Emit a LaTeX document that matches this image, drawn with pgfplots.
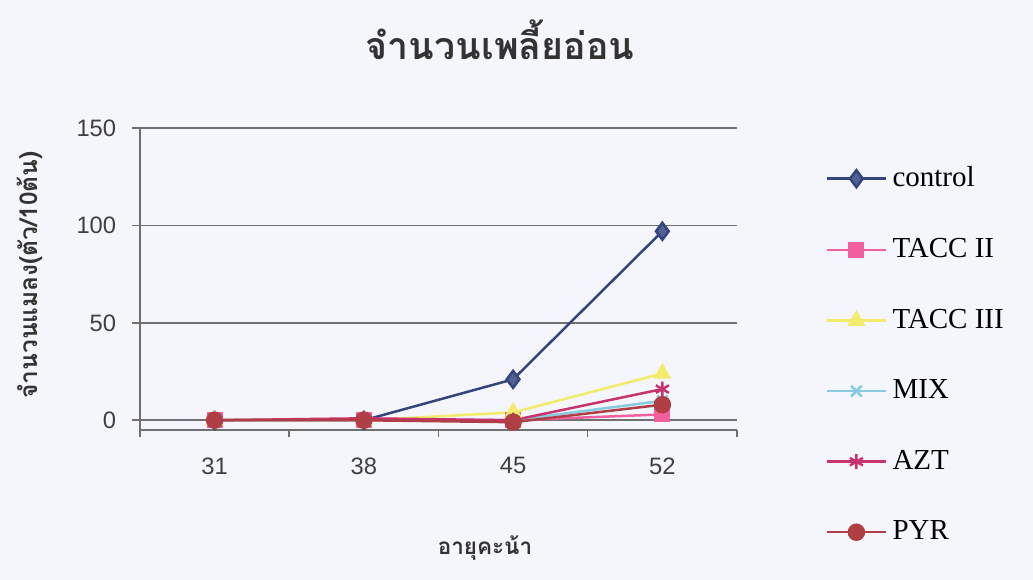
\documentclass[border=0pt]{standalone}
\usepackage{pgfplots}
\pgfplotsset{compat=1.18}
\usepackage{fontspec}
\setmainfont{Liberation Serif}
\newfontfamily\thaifont[Script=Thai]{Loma}
\newfontfamily\arialfont{Liberation Sans}
\definecolor{bg}{HTML}{F4F6FB}
\definecolor{cctrl}{HTML}{34457E}
\definecolor{ctacc2}{HTML}{F0609E}
\definecolor{ctacc3}{HTML}{F2EC6A}
\definecolor{cmix}{HTML}{86CBE0}
\definecolor{cazt}{HTML}{C8336E}
\definecolor{cpyr}{HTML}{B03F45}
\definecolor{gridc}{HTML}{707070}
\begin{document}
\begin{tikzpicture}
\fill[bg] (-56pt,-60pt) rectangle (357.2pt,172pt);
\begin{axis}[
  at={(0pt,0pt)}, anchor=south west,
  scale only axis, width=238.8pt, height=120.8pt,
  xmin=-0.5, xmax=3.5, ymin=-5, ymax=150,
  axis x line*=bottom, axis y line*=left,
  axis line style={gridc, line width=0.6pt},
  xtick={0,1,2,3}, xticklabels={31,38,45,52},
  minor xtick={-0.5,0.5,1.5,2.5,3.5},
  major x tick style={draw=none},
  minor x tick style={gridc, line width=0.6pt},
  minor tick length=3pt,
  ytick={0,50,100,150},
  major y tick style={gridc, line width=0.6pt},
  major tick length=3pt,
  tick align=outside,
  ymajorgrids, major grid style={gridc, line width=0.6pt},
  tick label style={font=\arialfont\fontsize{9.5}{11}\selectfont, text=black!75},
  /pgf/number format/assume math mode=true,
  xticklabel style={yshift=-4.5pt},
  yticklabel style={xshift=-3pt},
  clip=false,
  legend style={draw=none, fill=none, at={(1.147,0.89)}, anchor=north west,
     font=\fontsize{11.6}{13}\selectfont, row sep=15.1pt, inner sep=0pt,
     legend cell align=left},
  legend image code/.code={\draw[mark repeat=2,mark phase=2] plot coordinates {(0cm,0cm)(0.42cm,0cm)(0.84cm,0cm)};},
  every axis plot/.append style={line width=1pt},
]
\addplot[cctrl, mark=diamond*, mark size=3.4pt, mark options={fill=cctrl!85}] coordinates {(0,0) (1,0) (2,21) (3,97)};
\addlegendentry{control}
\addplot[ctacc2, mark=square*, mark size=2.7pt] coordinates {(0,0) (1,0) (2,0) (3,3)};
\addlegendentry{TACC II}
\addplot[ctacc3, mark=triangle*, mark size=3.2pt] coordinates {(0,0) (1,0) (2,4) (3,24)};
\addlegendentry{TACC III}
\addplot[cmix, mark=x, mark size=3pt] coordinates {(0,0) (1,0) (2,0) (3,10)};
\addlegendentry{MIX}
\addplot[cazt, mark=asterisk, mark size=3pt] coordinates {(0,0) (1,1) (2,0) (3,16)};
\addlegendentry{AZT}
\addplot[cpyr, mark=*, mark size=3pt] coordinates {(0,0) (1,0) (2,-1) (3,8)};
\addlegendentry{PYR}
\end{axis}
\node[font=\thaifont\bfseries\fontsize{15}{18}\selectfont, text=black!80] at (144pt,156pt) {จำนวนเพลี้ยอ่อน};
\node[font=\thaifont\bfseries\fontsize{9.8}{11}\selectfont, text=black!80, rotate=90] at (-44pt,62pt) {จำนวนแมลง(ตัว/10ต้น)};
\node[font=\thaifont\bfseries\fontsize{9}{10}\selectfont, text=black!80] at (138pt,-47.2pt) {อายุคะน้า};
\pgfresetboundingbox
\path[use as bounding box] (-56pt,-60pt) rectangle (357.2pt,172pt);
\end{tikzpicture}
\end{document}
